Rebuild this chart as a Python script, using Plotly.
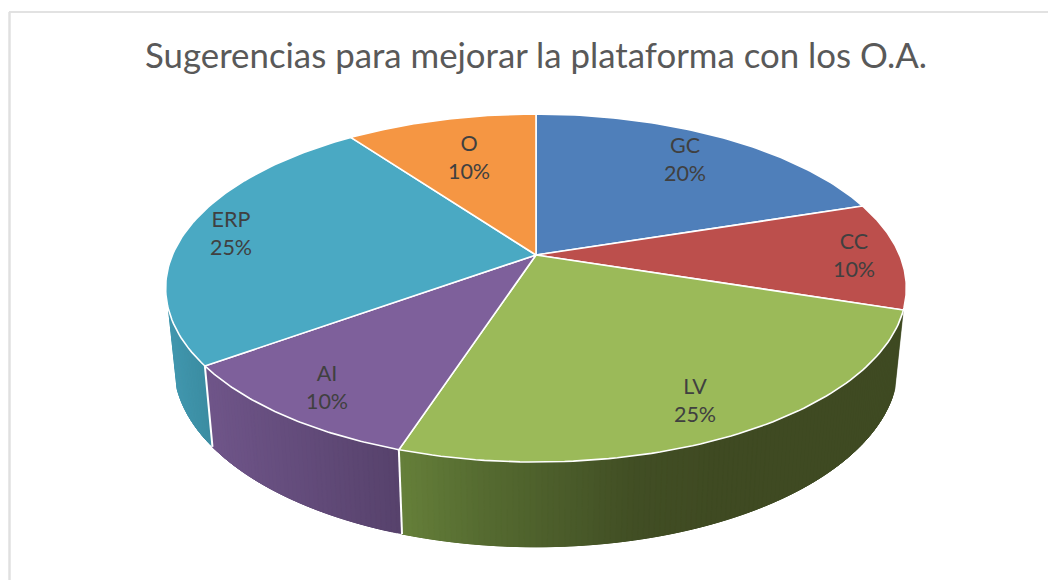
import numpy as np
import plotly.graph_objects as go

# data
categories = ["GC", "CC", "LV", "AI", "ERP", "O"]
values = [20, 10, 25, 10, 25, 10]

# style
top_colors = ["#4f7fba", "#bc4f4c", "#9bba59", "#7e609b", "#4aa9c3", "#f59643"]
# wall shading: (pixel x, colour) stops for the slices whose side is visible
wall_shades = {
    "LV": [(400, "#66803a"), (480, "#566c31"), (640, "#414e24"), (720, "#3f4a22")],
    "AI": [(206, "#6f5589"), (400, "#57426c")],
    "ERP": [(168, "#4197ae"), (214, "#3a8a9f")],
}
label_x = [685, 854, 695, 327, 231, 469]
label_y = [162, 258, 403, 390, 236, 160]

# the page body keeps an 8px margin, so the figure starts at (8, 8) in the window
PAGE_W, PAGE_H, OFFSET = 1056, 580, 8
FIG_W, FIG_H = PAGE_W - OFFSET, PAGE_H - OFFSET

# projection of the tilted disc onto the picture
CX, CY = 536, 255
A, B, K = 363.6, 167.7, 0.19
DEPTH, SX, SY = 76.5, 0.977, 1.04
WALL_END = 252  # left silhouette of the disc, degrees clockwise from the top
STEP = 0.75


def rim(deg):
    a = np.radians(deg)
    w = 1 + K * np.cos(a)
    return CX + A * np.sin(a) / w, CY - B * np.cos(a) / w


def floor(deg):
    x, y = rim(deg)
    return CX + SX * (x - CX), CY + DEPTH + SY * (y - CY)


def hex_rgb(c):
    return np.array([int(c[i:i + 2], 16) for i in (1, 3, 5)])


def shade(stops, x):
    xs = [s[0] for s in stops]
    rgb = np.array([hex_rgb(s[1]) for s in stops])
    vals = [int(round(np.interp(x, xs, rgb[:, i]))) for i in range(3)]
    return "rgb(%d,%d,%d)" % tuple(vals)


fig = go.Figure()

edges = np.cumsum([0] + values) * 3.6

# side walls first, as thin overlapping strips so the shading can change along them
for i, cat in enumerate(categories):
    if cat not in wall_shades:
        continue
    start, end = edges[i], min(edges[i + 1], WALL_END)
    for d0 in np.arange(start, end, STEP):
        d1 = min(d0 + STEP * 4, end)
        x0, y0 = rim(d0)
        x1, y1 = rim(d1)
        x2, y2 = floor(d1)
        x3, y3 = floor(d0)
        col = shade(wall_shades[cat], x0)
        fig.add_trace(go.Scatter(
            x=[x0, x1, x2, x3, x0], y=[y0, y1, y2, y3, y0],
            mode="lines", fill="toself", fillcolor=col,
            line=dict(color=col, width=0.5), hoverinfo="skip",
        ))

# white seams between the walls
for deg in edges[3:5]:
    x0, y0 = rim(deg)
    x1, y1 = floor(deg)
    fig.add_trace(go.Scatter(
        x=[x0, x1], y=[y0, y1], mode="lines",
        line=dict(color="white", width=2), hoverinfo="skip",
    ))

# top of the pie
for i, cat in enumerate(categories):
    degs = np.linspace(edges[i], edges[i + 1], 80)
    xs, ys = rim(degs)
    fig.add_trace(go.Scatter(
        x=[CX] + xs.tolist() + [CX], y=[CY] + ys.tolist() + [CY],
        mode="lines", fill="toself", fillcolor=top_colors[i],
        line=dict(color="white", width=1.6),
        name=cat, text=f"{cat}: {values[i]}%", hoverinfo="text",
    ))

# data labels
fig.add_trace(go.Scatter(
    x=label_x, y=label_y, mode="text",
    text=[f"{c}<br>{v}%" for c, v in zip(categories, values)],
    textposition="middle center",
    textfont=dict(family="Lato", size=21.5, color="#404040"),
    hoverinfo="skip",
))

fig.update_layout(
    width=FIG_W, height=FIG_H,
    margin=dict(l=0, r=0, t=0, b=0),
    paper_bgcolor="white", plot_bgcolor="white",
    showlegend=False,
    title=dict(
        text="Sugerencias para mejorar la plataforma con los O.A.",
        x=(536 - OFFSET) / FIG_W, xanchor="center",
        y=1 - (56 - OFFSET) / FIG_H, yanchor="middle",
        font=dict(family="Lato", size=34.8, color="#595959"),
    ),
    xaxis=dict(range=[OFFSET, PAGE_W], visible=False, fixedrange=True),
    yaxis=dict(range=[PAGE_H, OFFSET], visible=False, fixedrange=True),
    # chart frame, open at the bottom and right as in the screenshot
    shapes=[
        dict(type="line", xref="x", yref="y", x0=9, x1=PAGE_W, y0=12, y1=12,
             line=dict(color="#d9d9d9", width=1.5)),
        dict(type="line", xref="x", yref="y", x0=9.5, x1=9.5, y0=12, y1=PAGE_H,
             line=dict(color="#e0e0e0", width=2.5)),
    ],
)

fig.write_html("out.html")
